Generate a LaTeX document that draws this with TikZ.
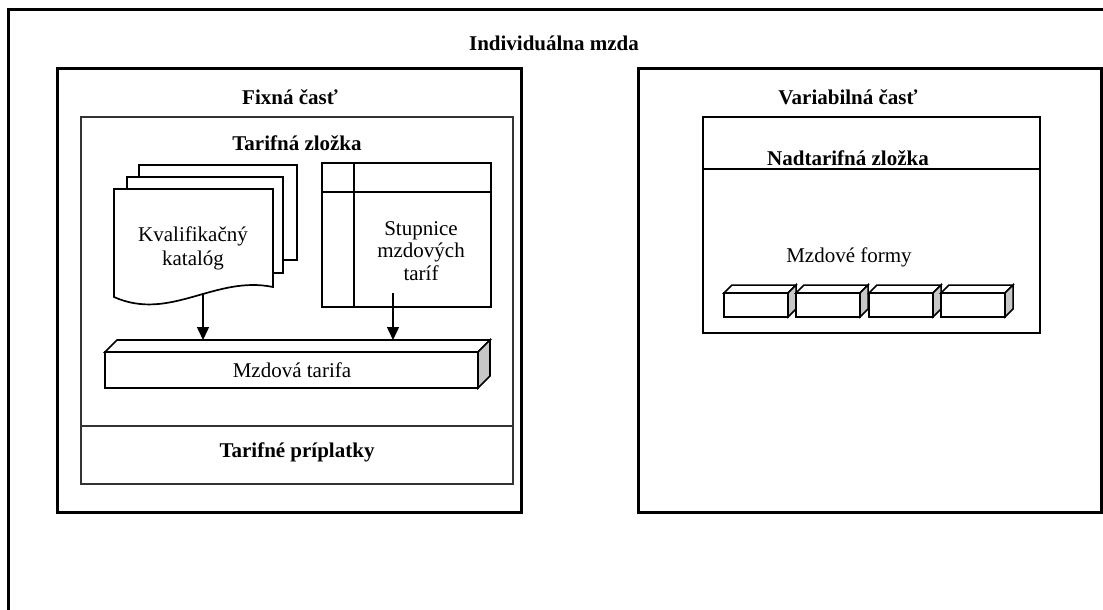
\documentclass[tikz,border=0pt]{standalone}
\usepackage{fontspec}
\setmainfont{Liberation Serif}
\usetikzlibrary{arrows.meta}
\begin{document}
\begin{tikzpicture}[x=1pt,y=-1pt,
  frame/.style={line width=3pt},
  inner/.style={line width=1.8pt, draw=black!80},
  thinline/.style={line width=1.7pt},
  cub/.style={line width=1.5pt},
  lbl/.style={font=\fontsize{21}{22}\selectfont, inner sep=0pt},
  blbl/.style={font=\fontsize{21}{22}\selectfont\bfseries, inner sep=0pt},
  arr/.style={line width=1.5pt, -{Triangle[length=13pt,width=12pt]}},
  side/.style={fill=black!22}]
\useasboundingbox (0,0) rectangle (1103,610);
\clip (0,0) rectangle (1103,610);

% outer frame (runs past the page edges)
\draw[frame] (8,640) -- (8,10) -- (1130,10);
\node[blbl, anchor=base] (title) at (554,51) {Individuálna mzda};

% fixed part
\draw[frame] (57,69) rectangle (521,512);
\node[blbl, anchor=base] (fix) at (290,104) {Fixná časť};
\draw[inner] (81,117) rectangle (513,484);
\draw[inner] (81,426) -- (513,426);
\node[blbl, anchor=base] (tz) at (297,150) {Tarifná zložka};
\node[blbl, anchor=base] (prip) at (297,457) {Tarifné príplatky};

% stacked documents
\draw[thinline, fill=white] (139,165) rectangle (297,260);
\draw[thinline, fill=white] (127,177) rectangle (283,273);
\draw[thinline, fill=white] (114,189) -- (273,189) -- (273,287)
  .. controls (215,275) and (170,322) .. (114,297) -- cycle;
\node[lbl, align=center, font=\fontsize{21}{24}\selectfont] (katalog) at (193,248) {Kvalifikačný\\katalóg};
\coordinate (katalog-out) at (203,293);

% wage scale table
\draw[thinline] (322,163) rectangle (491,307);
\draw[thinline] (322,192) -- (491,192);
\draw[thinline] (354,163) -- (354,307);
\node[lbl, align=center, font=\fontsize{21}{22.5}\selectfont] (stupnice) at (421,251) {Stupnice\\mzdových\\taríf};
\coordinate (stupnice-out) at (393,293);

% wage tariff bar
\draw[thinline, fill=white] (105,352) -- (117,340) -- (490,340) -- (478,352) -- cycle;
\draw[thinline, side] (478,352) -- (490,340) -- (490,376) -- (478,388) -- cycle;
\draw[thinline] (105,352) rectangle (478,388);
\node[lbl, anchor=base] (tarifa) at (292,377) {Mzdová tarifa};
\coordinate (tarifa-in1) at (203,340);
\coordinate (tarifa-in2) at (393,340);

\draw[arr] (katalog-out) -- (tarifa-in1);
\draw[arr] (stupnice-out) -- (tarifa-in2);

% variable part
\draw[frame] (638,69) rectangle (1101,512);
\node[blbl, anchor=base] (var) at (848,104) {Variabilná časť};
\draw[line width=2pt] (703,117) rectangle (1040,333);
\draw[line width=2pt] (703,169) -- (1040,169);
\node[blbl, anchor=base] (nz) at (848,165) {Nadtarifná zložka};
\node[lbl, anchor=base] (formy) at (849,262) {Mzdové formy};

% wage forms as blocks
\foreach \x in {724,796,869,941}{
  \draw[cub, fill=white] (\x,293) -- (\x+8,285) -- (\x+72,285) -- (\x+64,293) -- cycle;
  \draw[cub, side] (\x+64,293) -- (\x+72,285) -- (\x+72,309) -- (\x+64,317) -- cycle;
  \draw[cub] (\x,293) rectangle (\x+64,317);
}
\end{tikzpicture}
\end{document}
